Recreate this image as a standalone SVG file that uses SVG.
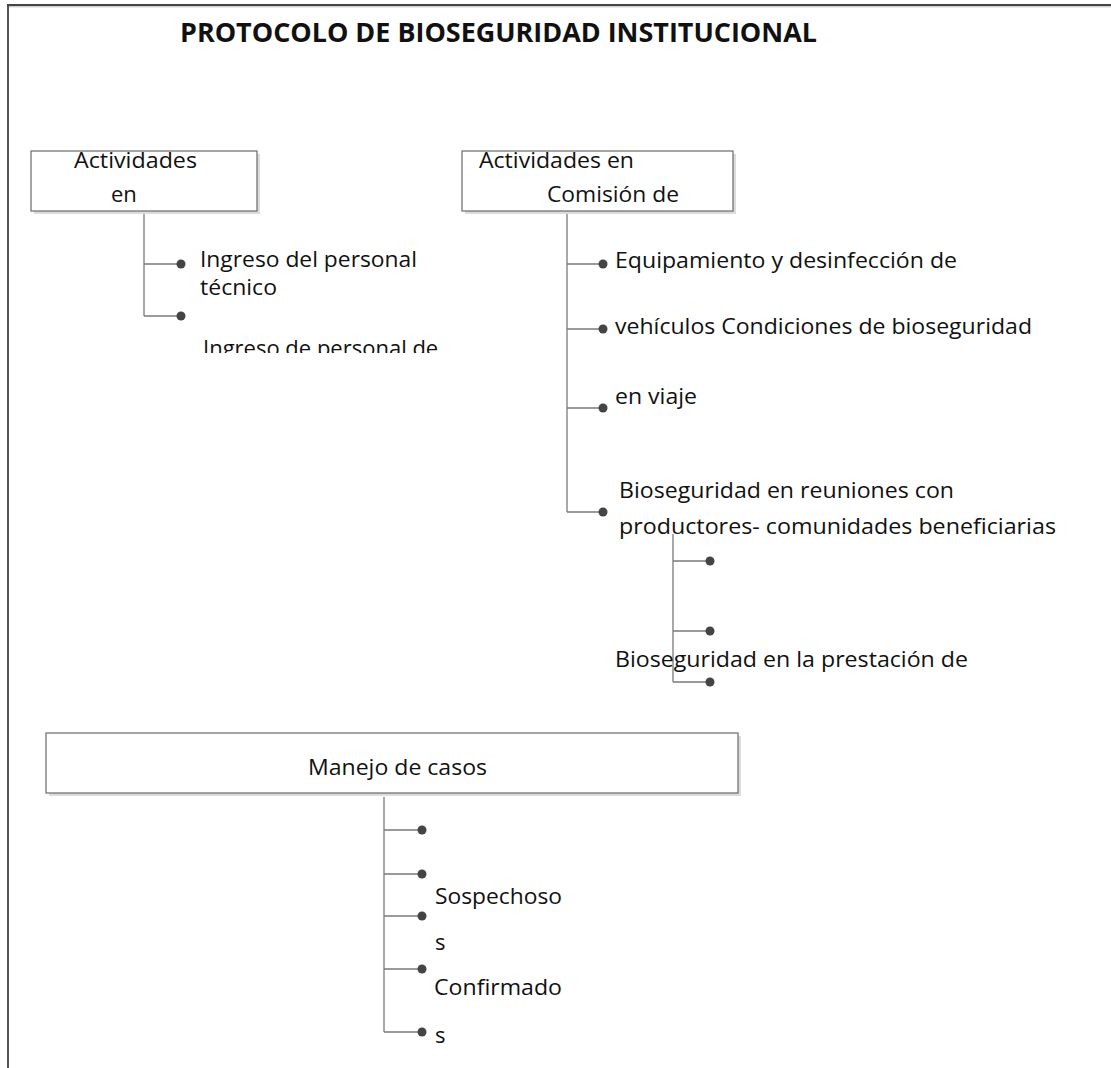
<svg xmlns="http://www.w3.org/2000/svg" width="1111" height="1068" viewBox="0 0 1111 1068">
<style>
text{font-family:"Open Sans","Liberation Sans",sans-serif;font-size:22px;fill:#111}
.title{font-size:26px;font-weight:bold}
.box{fill:#fff;stroke:#6a6a6a;stroke-width:1.2}
.shadow{fill:#dcdcdc}
.conn{stroke:#7a7a7a;stroke-width:1.3;fill:none}
.dot{fill:#444}
</style>
<defs>
<clipPath id="clipIng"><rect x="0" y="0" width="1111" height="353"/></clipPath>
</defs>
<rect width="1111" height="1068" fill="#fff"/>
<g id="frame">
<line x1="8" y1="4" x2="8" y2="1068" stroke="#555" stroke-width="2"/>
<line x1="7" y1="5" x2="1111" y2="5" stroke="#444" stroke-width="2"/>
<line x1="9" y1="6.8" x2="1111" y2="6.8" stroke="#bbb" stroke-width="1"/>
</g>
<g id="title"><text class="title" x="180" y="42" textLength="637" lengthAdjust="spacingAndGlyphs">PROTOCOLO DE BIOSEGURIDAD INSTITUCIONAL</text></g>
<g id="connectors">
<path class="conn" d="M144 211V316M144 264H181M144 316H181"/>
<path class="conn" d="M567 211V512M567 264H603M567 329H603M567 408H603M567 512H603"/>
<path class="conn" d="M673 534V682M673 561H710M673 631H710M673 682H710"/>
<path class="conn" d="M384 797V1032M384 830H422M384 874H422M384 916H422M384 969H422M384 1032H422"/>
<circle class="dot" cx="181" cy="264" r="4.5"/>
<circle class="dot" cx="181" cy="316" r="4.5"/>
<circle class="dot" cx="603" cy="264" r="4.5"/>
<circle class="dot" cx="603" cy="329" r="4.5"/>
<circle class="dot" cx="603" cy="408" r="4.5"/>
<circle class="dot" cx="603" cy="512" r="4.5"/>
<circle class="dot" cx="710" cy="561" r="4.5"/>
<circle class="dot" cx="710" cy="631" r="4.5"/>
<circle class="dot" cx="710" cy="682" r="4.5"/>
<circle class="dot" cx="422" cy="830" r="4.5"/>
<circle class="dot" cx="422" cy="874" r="4.5"/>
<circle class="dot" cx="422" cy="916" r="4.5"/>
<circle class="dot" cx="422" cy="969" r="4.5"/>
<circle class="dot" cx="422" cy="1032" r="4.5"/>
</g>
<g id="node-actividades-en">
<rect class="shadow" x="34" y="154" width="226" height="60"/>
<rect class="box" x="31" y="151" width="226" height="60"/>
<text x="74" y="168" textLength="123" lengthAdjust="spacingAndGlyphs">Actividades</text>
<text x="111" y="202">en</text>
</g>
<g id="node-actividades-comision">
<rect class="shadow" x="465" y="154" width="271" height="60"/>
<rect class="box" x="462" y="151" width="271" height="60"/>
<text x="479" y="168" textLength="155" lengthAdjust="spacingAndGlyphs">Actividades en</text>
<text x="547" y="202" textLength="132" lengthAdjust="spacingAndGlyphs">Comisión de</text>
</g>
<g id="node-manejo">
<rect class="shadow" x="49" y="736" width="692" height="60"/>
<rect class="box" x="46" y="733" width="692" height="60"/>
<text x="308" y="775" textLength="179" lengthAdjust="spacingAndGlyphs">Manejo de casos</text>
</g>
<g id="labels-1">
<text x="200" y="267" textLength="217" lengthAdjust="spacingAndGlyphs">Ingreso del personal</text>
<text x="200" y="295" textLength="77" lengthAdjust="spacingAndGlyphs">técnico</text>
<text x="203" y="356" clip-path="url(#clipIng)">Ingreso de personal de</text>
</g>
<g id="labels-2">
<text x="615" y="268" textLength="342" lengthAdjust="spacingAndGlyphs">Equipamiento y desinfección de</text>
<text x="615" y="334" textLength="417" lengthAdjust="spacingAndGlyphs">vehículos Condiciones de bioseguridad</text>
<text x="615" y="404" textLength="82" lengthAdjust="spacingAndGlyphs">en viaje</text>
<text x="619" y="498" textLength="335" lengthAdjust="spacingAndGlyphs">Bioseguridad en reuniones con</text>
<text x="619" y="534" textLength="437" lengthAdjust="spacingAndGlyphs">productores- comunidades beneficiarias</text>
<text x="615" y="667" textLength="353" lengthAdjust="spacingAndGlyphs">Bioseguridad en la prestación de</text>
</g>
<g id="labels-3">
<text x="435" y="904" textLength="127" lengthAdjust="spacingAndGlyphs">Sospechoso</text>
<text x="435" y="950">s</text>
<text x="434" y="995" textLength="128" lengthAdjust="spacingAndGlyphs">Confirmado</text>
<text x="435" y="1043">s</text>
</g>
</svg>
